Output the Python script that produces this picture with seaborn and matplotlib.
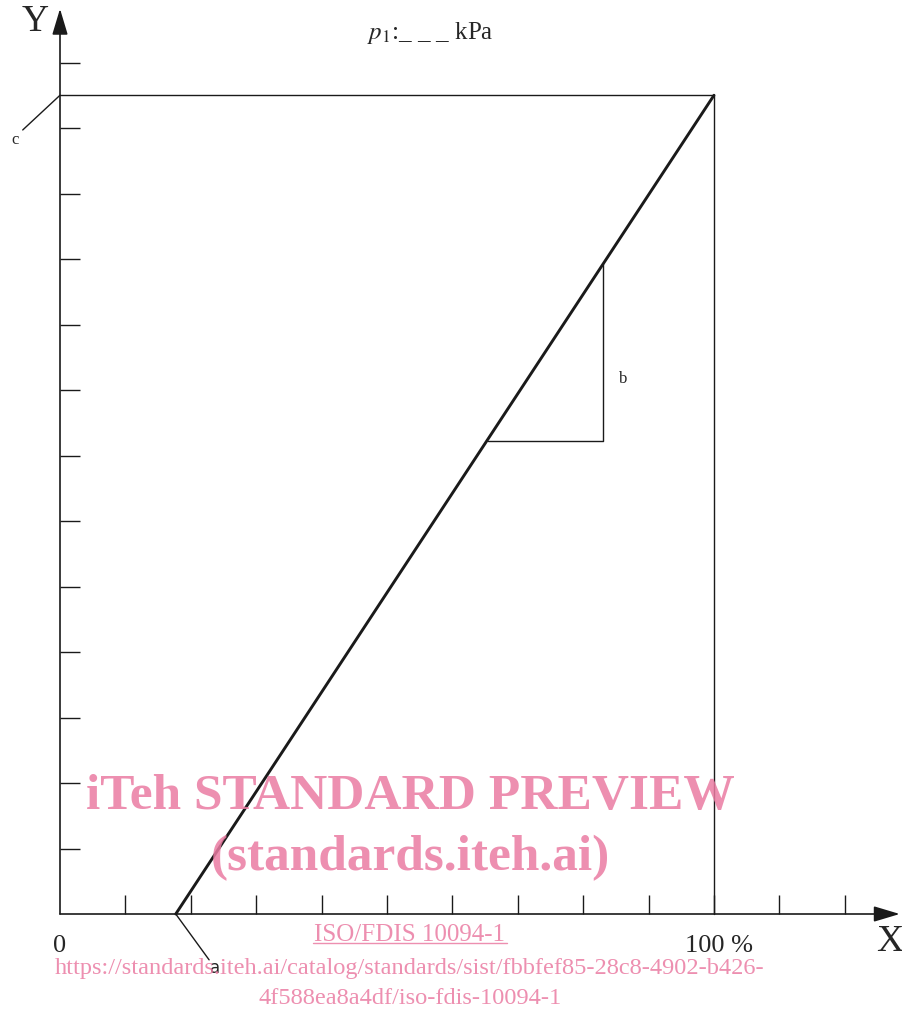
import numpy as np
import pandas as pd
import seaborn as sns
import matplotlib.pyplot as plt

# chart data (one unit = one tick step, 100 % = 10 steps)
x_ticks = [1, 2, 3, 4, 5, 6, 7, 8, 9, 10, 11, 12]
y_ticks = [1, 2, 3, 4, 5, 6, 7, 8, 9, 10, 11, 12, 13]
curve_x = [1.77, 10.0]
curve_y = [0.0, 12.5]
box_x = [0.0, 10.0, 10.0]
box_y = [12.5, 12.5, 0.0]
tri_x = [6.54, 8.30, 8.30]
tri_y = [7.22, 7.22, 9.92]
lead_a_x = [1.77, 2.28]
lead_a_y = [0.0, -0.70]
lead_c_x = [-0.57, 0.0]
lead_c_y = [11.97, 12.5]

sns.set_theme(style='white')
plt.rcParams['font.family'] = ['Liberation Serif', 'DejaVu Serif']
plt.rcParams['mathtext.fontset'] = 'stix'

fig = plt.figure(figsize=(9.03, 10.12), dpi=100)
ax = fig.add_axes([0, 0, 1, 1])
ax.set_xlim(-60 / 65.4, 843 / 65.4)
ax.set_ylim(-97 / 65.5, 915 / 65.5)
ax.axis('off')

ink = '#1a1a1a'
line_kw = dict(ax=ax, color=ink, sort=False, estimator=None, errorbar=None)
curve = pd.DataFrame({'x': curve_x, 'y': curve_y})
sns.lineplot(data=curve, x='x', y='y', lw=2.1, **line_kw)
sns.lineplot(x=box_x, y=box_y, lw=1.0, **line_kw)
sns.lineplot(x=tri_x, y=tri_y, lw=1.0, **line_kw)
sns.lineplot(x=lead_a_x, y=lead_a_y, lw=1.0, **line_kw)
sns.lineplot(x=lead_c_x, y=lead_c_y, lw=1.0, **line_kw)

# ticks
ax.vlines(x_ticks, 0, 0.29, color=ink, lw=1.0)
ax.hlines(y_ticks, 0, 0.30, color=ink, lw=1.0)

# axes with arrows
arrow = dict(arrowstyle='-|>,head_length=0.4,head_width=0.12', mutation_scale=40,
             color=ink, lw=1.2, shrinkA=0, shrinkB=0)
ax.annotate('', xy=(0, 13.82), xytext=(0, 0), arrowprops=arrow)
ax.annotate('', xy=(12.84, 0), xytext=(0, 0), arrowprops=arrow)

# labels
ax.text(-0.38, 13.63, 'Y', fontsize=27, ha='center', va='center')
ax.text(12.68, -0.41, 'X', fontsize=27, ha='center', va='center')
ax.text(0, -0.47, '0', fontsize=19, ha='center', va='center')
ax.text(10.08, -0.47, '100 %', fontsize=19, ha='center', va='center')
ax.text(5.66, 13.47, r'$p_1$:_ _ _ kPa', fontsize=18, ha='center', va='center')
ax.text(-0.69, 11.83, 'c', fontsize=12, ha='center', va='center')
ax.text(2.37, -0.81, 'a', fontsize=12, ha='center', va='center', family='DejaVu Sans')
ax.text(8.61, 8.18, 'b', fontsize=12, ha='center', va='center')

# watermark
pink = '#ea7ba2'
ax.text(5.35, 1.80, 'iTeh STANDARD PREVIEW', fontsize=37, fontweight='bold',
        color=pink, alpha=0.85, ha='center', va='center')
ax.text(5.35, 0.87, '(standards.iteh.ai)', fontsize=37, fontweight='bold',
        color=pink, alpha=0.85, ha='center', va='center')
ax.text(5.35, -0.305, 'ISO/FDIS 10094-1', fontsize=18, color=pink, alpha=0.85,
        ha='center', va='center')
ax.plot([(313 - 60) / 65.4, (507 - 60) / 65.4], [-0.445, -0.445], color=pink, alpha=0.85, lw=1.0)
ax.text(5.35, -0.81, 'https://standards.iteh.ai/catalog/standards/sist/fbbfef85-28c8-4902-b426-',
        fontsize=17.6, color=pink, alpha=0.85, ha='center', va='center')
ax.text(5.35, -1.27, '4f588ea8a4df/iso-fdis-10094-1', fontsize=17.6, color=pink, alpha=0.85,
        ha='center', va='center')

fig.savefig('out.png', dpi=100)
